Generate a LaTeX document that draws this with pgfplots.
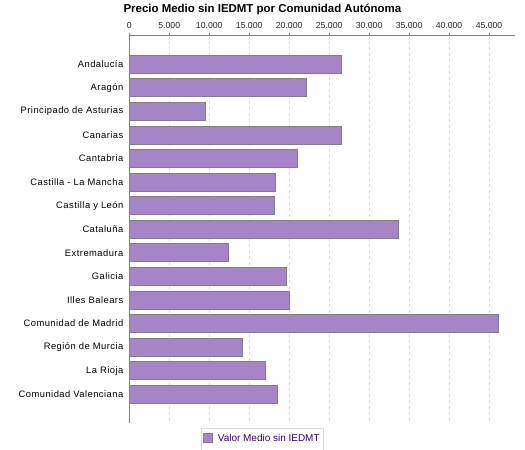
\documentclass[border=0pt]{standalone}
\usepackage{fontspec}
\setmainfont{Liberation Sans}
\usepackage{pgfplots}
\pgfplotsset{compat=1.18}
\definecolor{barfill}{RGB}{165,133,200}
\definecolor{bardraw}{RGB}{128,128,128}
\definecolor{legtext}{RGB}{51,0,102}
\definecolor{gridc}{RGB}{220,220,220}
\begin{document}
\begin{tikzpicture}
\path[use as bounding box] (-129.3bp,-27bp) rectangle (395.7bp,423bp);
\begin{axis}[
  at={(0,0)}, anchor=south west,
  scale only axis, width=385.7bp, height=388bp,
  xbar, bar width=18bp,
  xmin=0, xmax=48250,
  ymin=-1.243, ymax=15.22, y dir=reverse,
  axis x line*=top, axis y line*=left,
  axis line style={draw=bardraw, line width=0.8pt},
  xtick={0,5000,10000,15000,20000,25000,30000,35000,40000,45000},
  scaled x ticks=false,
  /pgf/number format/1000 sep={.},
  /pgf/number format/assume math mode=true,
  xticklabel style={font=\fontsize{8.7}{10}\selectfont, text=black!85},
  xtick style={draw=bardraw, line width=0.6pt},
  tick align=outside, major tick length=2.5bp,
  ytick={0,1,2,3,4,5,6,7,8,9,10,11,12,13,14},
  yticklabels={Andalucía, Aragón, Principado de Asturias, Canarias, Cantabria, Castilla - La Mancha, Castilla y León, Cataluña, Extremadura, Galicia, Illes Balears, Comunidad de Madrid, Región de Murcia, La Rioja, Comunidad Valenciana},
  ytick style={draw=none},
  yticklabel style={font=\fontsize{9.4}{11}\selectfont\addfontfeature{LetterSpace=5}, text=black},
  xmajorgrids,
  major grid style={draw=gridc, dashed, line width=0.6pt},
  title={Precio Medio sin IEDMT por Comunidad Autónoma},
  title style={font=\bfseries\fontsize{11.5}{13}\selectfont, at={(0.345,1)}, anchor=center, yshift=20bp},
  legend style={at={(0.345,0)}, anchor=north, yshift=-5bp, draw=gridc, line width=0.8pt,
    font=\fontsize{10}{12}\selectfont, text=legtext, inner xsep=2bp, inner ysep=3.5bp},
  legend image code/.code={\draw[#1, line width=0.8pt] (0bp,-4.5bp) rectangle (9bp,4.5bp); \path (12bp,0);},
]
\addplot[fill=barfill, draw=bardraw, line width=0.8pt] coordinates {
  (26550,0) (22170,1) (9550,2) (26550,3) (21050,4) (18300,5) (18170,6)
  (33670,7) (12420,8) (19670,9) (20050,10) (46170,11) (14170,12) (17050,13) (18550,14)
};
\addlegendentry{Valor Medio sin IEDMT}
\end{axis}
\end{tikzpicture}
\end{document}
